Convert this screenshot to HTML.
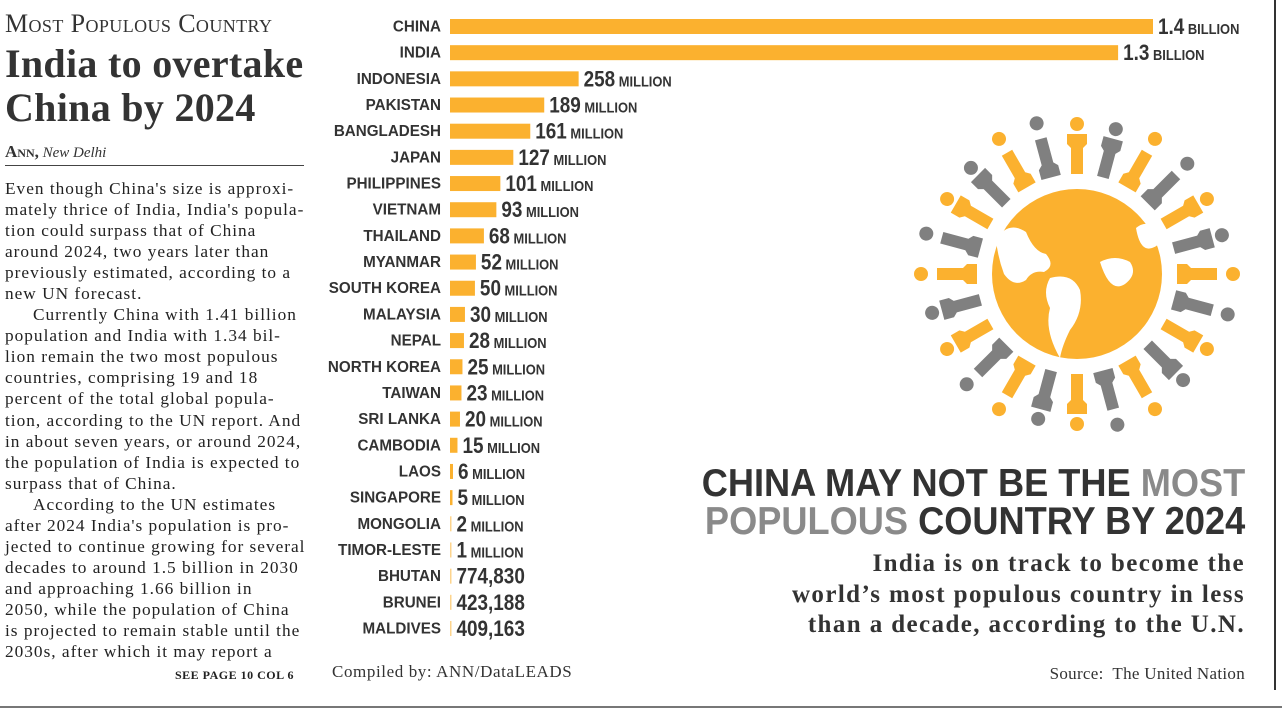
<!DOCTYPE html>
<html><head><meta charset="utf-8">
<style>
html,body{margin:0;padding:0;background:#fff;}
body{width:1282px;height:713px;position:relative;overflow:hidden;font-family:"Liberation Serif",serif;color:#222;}
.abs{position:absolute;}
.kicker{position:absolute;left:5px;top:9px;font-size:26px;font-variant:small-caps;color:#333;letter-spacing:0.4px;white-space:nowrap;}
.head{position:absolute;left:5px;font-size:40px;font-weight:bold;color:#333;white-space:nowrap;letter-spacing:0.3px;}
.byline{position:absolute;left:5px;top:142px;font-size:15px;color:#333;}
.rule{position:absolute;left:5px;top:165px;width:299px;height:1px;background:#444;}
.body{position:absolute;left:5px;top:178px;width:300px;font-size:17.3px;line-height:21.05px;color:#222;letter-spacing:1.0px;}
.body div{text-align:left;white-space:nowrap;height:21.05px;}
.body div.i{padding-left:28px;}
</style></head>
<body>
<div class="kicker">Most Populous Country</div>
<div class="head" style="top:40px">India to overtake</div>
<div class="head" style="top:84px">China by 2024</div>
<div class="byline"><span style="font-variant:small-caps;font-weight:bold;font-size:17px">Ann,</span> <i>New Delhi</i></div>
<div class="rule"></div>
<div class="body">
<div>Even though China's size is approxi-</div>
<div>mately thrice of India, India's popula-</div>
<div>tion could surpass that of China</div>
<div>around 2024, two years later than</div>
<div>previously estimated, according to a</div>
<div>new UN forecast.</div>
<div class="i">Currently China with 1.41 billion</div>
<div>population and India with 1.34 bil-</div>
<div>lion remain the two most populous</div>
<div>countries, comprising 19 and 18</div>
<div>percent of the total global popula-</div>
<div>tion, according to the UN report. And</div>
<div>in about seven years, or around 2024,</div>
<div>the population of India is expected to</div>
<div>surpass that of China.</div>
<div class="i">According to the UN estimates</div>
<div>after 2024 India's population is pro-</div>
<div>jected to continue growing for several</div>
<div>decades to around 1.5 billion in 2030</div>
<div>and approaching 1.66 billion in</div>
<div>2050, while the population of China</div>
<div>is projected to remain stable until the</div>
<div>2030s, after which it may report a</div>
</div>
<div class="abs" style="left:175px;top:668px;font-size:12px;font-weight:bold;letter-spacing:0.5px">SEE PAGE 10 COL 6</div>

<div class="abs" style="left:1274px;top:0;width:2px;height:690px;background:#333"></div>
<div class="abs" style="left:0;top:706px;width:1282px;height:2px;background:#777"></div>

<svg class="abs" style="left:0;top:0" width="1282" height="713" id="chart">
<g id="bars"></g>
<g id="globe-art"></g>
</svg>

<div class="abs" style="left:0;top:465px;width:1245px;text-align:right;white-space:nowrap">
<div style="display:inline-block;text-align:right;transform:scaleX(0.94);transform-origin:right top;font-family:'Liberation Sans',sans-serif;font-weight:bold;font-size:38.5px;line-height:38px;color:#333">CHINA MAY NOT BE THE <span style="color:#8a8a8a">MOST</span><br><span style="color:#8a8a8a">POPULOUS</span> COUNTRY BY 2024</div></div>
<div class="abs" style="left:600px;top:549px;width:645px;text-align:right;font-size:25px;line-height:30.5px;font-weight:bold;color:#333;letter-spacing:1.4px;white-space:nowrap">India is on track to become the<br>world’s most populous country in less<br>than a decade, according to the U.N.</div>
<div class="abs" style="left:332px;top:662px;font-size:17px;color:#333;letter-spacing:0.6px">Compiled by: ANN/DataLEADS</div>
<div class="abs" style="left:900px;top:664px;width:345px;text-align:right;font-size:17px;color:#333;letter-spacing:0.3px">Source:&nbsp; The United Nation</div>

<script>
const countries=["CHINA","INDIA","INDONESIA","PAKISTAN","BANGLADESH","JAPAN","PHILIPPINES","VIETNAM","THAILAND","MYANMAR","SOUTH KOREA","MALAYSIA","NEPAL","NORTH KOREA","TAIWAN","SRI LANKA","CAMBODIA","LAOS","SINGAPORE","MONGOLIA","TIMOR-LESTE","BHUTAN","BRUNEI","MALDIVES"];
const populations=[1410000000,1340000000,258000000,189000000,161000000,127000000,101000000,93000000,68000000,52000000,50000000,30000000,28000000,25000000,23000000,20000000,15000000,6000000,5000000,2000000,1000000,774830,423188,409163];
const valueNumbers=["1.4","1.3","258","189","161","127","101","93","68","52","50","30","28","25","23","20","15","6","5","2","1","774,830","423,188","409,163"];
const valueUnits=["BILLION","BILLION","MILLION","MILLION","MILLION","MILLION","MILLION","MILLION","MILLION","MILLION","MILLION","MILLION","MILLION","MILLION","MILLION","MILLION","MILLION","MILLION","MILLION","MILLION","MILLION","","",""];
</script>
<script>
(function(){
const NS="http://www.w3.org/2000/svg";
const g=document.getElementById('bars');
const x0=450, pxPerUnit=703/1410000000;
const xScale=v=>Math.max(1.5,v*pxPerUnit);
const n=countries.length;
const yTop=26, yBot=628;
const yScale=i=>yTop+(yBot-yTop)*i/(n-1);
for(let i=0;i<n;i++){
  const yc=yScale(i);
  const w=xScale(populations[i]);
  const lab=document.createElementNS(NS,'text');
  
  
  lab.setAttribute('transform',`translate(441,${yc+5.5}) scale(0.95,1)`);
  lab.setAttribute('text-anchor','end');
  lab.setAttribute('font-family','"Liberation Sans",sans-serif');
  lab.setAttribute('font-weight','bold');lab.setAttribute('font-size','16');
  lab.setAttribute('fill','#333');
  lab.textContent=countries[i];g.appendChild(lab);
  const r=document.createElementNS(NS,'rect');
  
  
  r.setAttribute('x',x0);r.setAttribute('y',yc-7);
  r.setAttribute('width',w);r.setAttribute('height',15);
  r.setAttribute('fill','#fbb12f');
  if(populations[i]<3000000) r.setAttribute('fill-opacity','0.55');
  g.appendChild(r);
  const t=document.createElementNS(NS,'text');
  
  
  t.setAttribute('transform',`translate(${x0+w+5},${yc+8}) scale(0.86,1)`);
  t.setAttribute('font-family','"Liberation Sans",sans-serif');
  t.setAttribute('font-weight','bold');t.setAttribute('fill','#333');
  const a=document.createElementNS(NS,'tspan');a.setAttribute('font-size','22');a.textContent=valueNumbers[i];t.appendChild(a);
  if(valueUnits[i]){const b=document.createElementNS(NS,'tspan');b.setAttribute('font-size','15');b.textContent=' '+valueUnits[i];t.appendChild(b);}
  g.appendChild(t);
}
const ga=document.getElementById('globe-art');
const cx=1077, cy=274;
const gl=document.createElementNS(NS,'circle');

gl.setAttribute('cx',cx);gl.setAttribute('cy',cy);gl.setAttribute('r',85);gl.setAttribute('fill','#fbb12f');
ga.appendChild(gl);
const land=document.createElementNS(NS,'path');

land.setAttribute('d','M996 240 q12 -20 30 -8 q8 20 20 22 q10 12 -2 18 q-12 -2 -18 8 q-12 8 -22 -6 q-6 -16 -8 -34z M1050 278 q22 -6 30 12 q4 22 -10 40 q-8 16 -10 28 q-16 -28 -10 -50 q-8 -16 0 -30z M1100 262 q15 -8 30 0 q8 12 -5 22 q-15 10 -25 -22z M1136 228 q12 -10 22 4 q6 12 -6 16 q-12 4 -16 -20z');
land.setAttribute('fill','#fff');
ga.appendChild(land);
const colors=['#fbb12f','#808080'];
for(let k=0;k<24;k++){
  const ang=k*15;
  const grp=document.createElementNS(NS,'g');
  
  grp.setAttribute('transform',`translate(${cx},${cy}) rotate(${ang})`);
  const col=colors[k%2];
  const inward=(k%4<2);
  const body=document.createElementNS(NS,'path');
  body.setAttribute('d','M-10 -140 h20 v10 l-4 4 v26 h-12 v-26 l-4 -4z');
  body.setAttribute('fill',col);
  const head=document.createElementNS(NS,'circle');
  head.setAttribute('cx',0);head.setAttribute('r',7);head.setAttribute('fill',col);
  if(inward){head.setAttribute('cy',-150);}
  else{body.setAttribute('transform','rotate(180 0 -124)');body.setAttribute('d','M-10 -148 h20 v10 l-4 4 v26 h-12 v-26 l-4 -4z');head.setAttribute('cy',-156);}
  grp.appendChild(body);grp.appendChild(head);
  ga.appendChild(grp);
}
})();
</script>
</body></html>
